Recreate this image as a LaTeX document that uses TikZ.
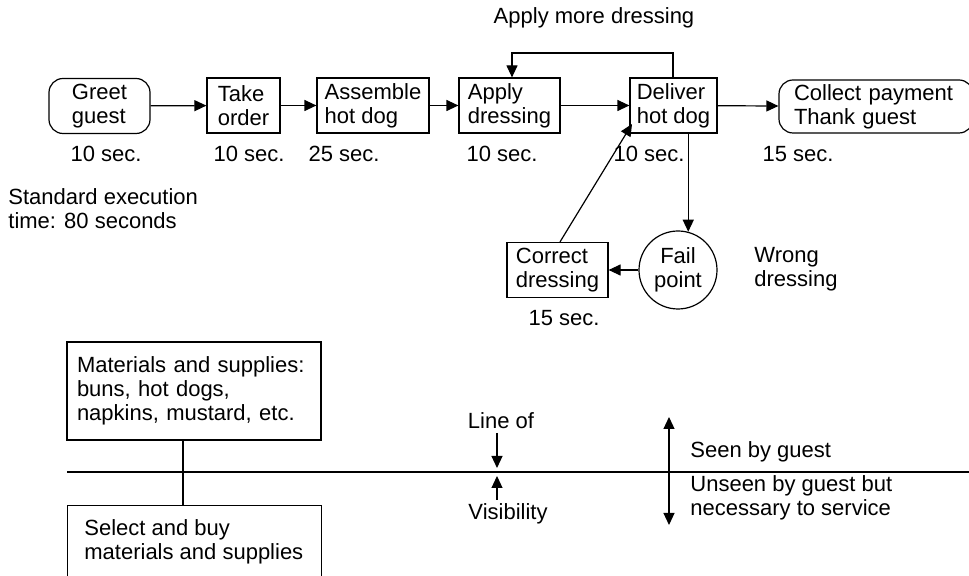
\documentclass[tikz,border=0pt]{standalone}
\usepackage{fontspec}
\setmainfont{Liberation Sans}
\usetikzlibrary{arrows.meta}
\begin{document}
\begin{tikzpicture}[x=0.5pt,y=-0.5pt,
  every node/.style={font=\fontsize{11}{12}\selectfont, inner sep=0pt},
  box/.style={draw, line width=0.6pt, align=left, minimum height=27.5pt},
  rbox/.style={box, rounded corners=7pt},
  lbl/.style={align=left},
  arr/.style={line width=0.6pt, -{Triangle[length=6pt,width=5.5pt]}},
  vis/.style={line width=1pt}]
\useasboundingbox (0,0) rectangle (969,576);
% top row
\node[rbox, minimum width=50.5pt] (greet) at (99.5,106) {Greet\\guest};
\node[box, minimum width=36.5pt] (take) at (243.5,105.5) {Take\\order};
\node[box, minimum width=56pt] (assemble) at (373,105.5) {Assemble\\hot dog};
\node[box, minimum width=50.5pt] (apply) at (509.5,105.5) {Apply\\dressing};
\node[box, minimum width=43.5pt] (deliver) at (673.5,105.5) {Deliver\\hot dog};
\node[rbox, minimum width=97pt, minimum height=26.5pt, text width=82pt] (collect) at (876,106.5) {Collect payment\\Thank guest};
% times
\node (t1) at (106,154) {10 sec.};
\node (t2) at (249,154) {10 sec.};
\node (t3) at (344,154) {25 sec.};
\node (t4) at (502,154) {10 sec.};
\node (t5) at (649,154) {10 sec.};
\node (t6) at (798,154) {15 sec.};
\node[lbl, anchor=west] (std) at (8,209) {Standard execution\\time: 80 seconds};
\node (more) at (594,18) {Apply more dressing};
% arrows top row
\draw[arr] (greet) -- (take);
\draw[arr] (take) -- (assemble);
\draw[arr] (assemble) -- (apply);
\draw[arr] (apply) -- (deliver);
\draw[arr] (deliver) -- (collect);
\coordinate (loopR) at (673,53);
\coordinate (loopL) at (512,53);
\draw[arr] (deliver.north -| loopR) -- (loopR) -- (loopL) -- (loopL |- apply.north);
% fail point
\node[draw, circle, line width=0.6pt, minimum size=39pt, align=center] (fail) at (678,270) {Fail\\point};
\node[box, minimum width=50.5pt] (correct) at (557.5,270) {Correct\\dressing};
\node (t7) at (564,318) {15 sec.};
\node[lbl, anchor=west] (wrong) at (754,269) {Wrong\\dressing};
\draw[arr] (fail.75 |- deliver.south) -- (fail.75);
\draw[arr] (fail) -- (correct);
\coordinate (tipD) at (632,124);
\draw[arr] (correct.north) ++(2.5,0) coordinate (cTop) (cTop) -- (tipD);
% bottom
\node[box, minimum width=127pt, minimum height=49pt, text width=117pt] (mat) at (194,391) {Materials and supplies:\\buns, hot dogs,\\napkins, mustard, etc.};
\node[draw, line width=0.6pt, anchor=north west, minimum width=127pt, minimum height=50pt] (sel) at (67,505) {};
\node[lbl, anchor=west] (seltext) at (84,542) {Select and buy\\materials and supplies};
\coordinate (visL) at (67,472);
\coordinate (visR) at (969,472);
\draw[vis] (visL) -- (visR);
\coordinate (conn) at (183,472);
\draw[vis] (mat.south -| conn) -- (sel.north -| conn);
\node (lineof) at (501,421) {Line of};
\node (visib) at (508,514) {Visibility};
\draw[arr] (497,433) -- (497,468);
\draw[arr] (497,500) -- (497,476);
\coordinate (dA) at (669,417);
\coordinate (dB) at (669,525);
\draw[line width=0.6pt, {Triangle[length=6pt,width=5.5pt]}-{Triangle[length=6pt,width=5.5pt]}] (dA) -- (dB);
\node[anchor=west] (seen) at (690,452) {Seen by guest};
\node[lbl, anchor=west] (unseen) at (690,498) {Unseen by guest but\\necessary to service};
\end{tikzpicture}
\end{document}
